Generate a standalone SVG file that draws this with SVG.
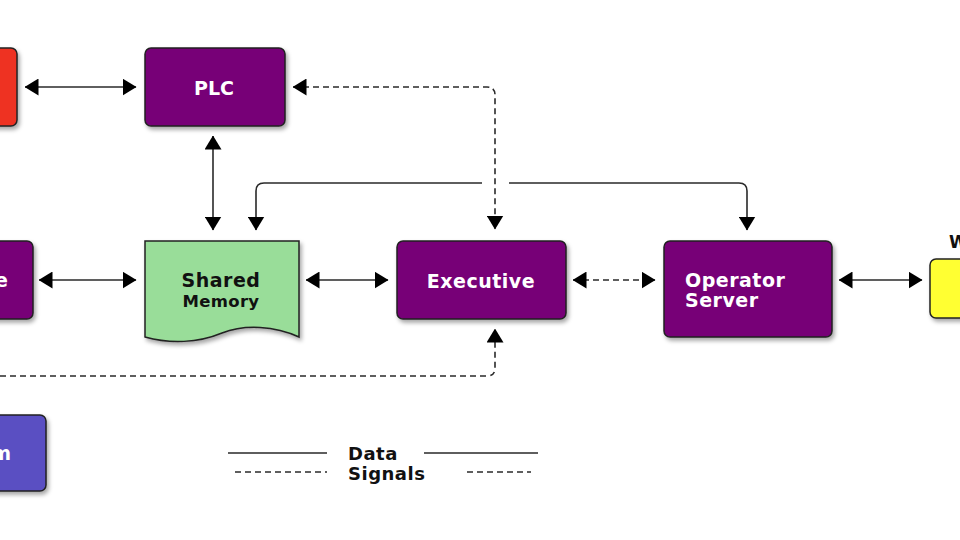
<svg xmlns="http://www.w3.org/2000/svg" width="960" height="540" viewBox="0 0 960 540">
<style>
.node{stroke:#222;stroke-width:1.5}
.purple{fill:#770077}
.lbl{font-family:"DejaVu Sans",sans-serif;font-weight:bold;font-size:19px;fill:#fff}
.dark{fill:#111}
.ln{fill:none;stroke:#2a2a2a;stroke-width:1.6}
.dash{stroke-dasharray:6 4}
</style>
<defs>
<filter id="sh" x="-20%" y="-20%" width="140%" height="140%">
<feDropShadow dx="2" dy="3" stdDeviation="2" flood-color="#000" flood-opacity="0.35"/>
</filter>
<marker id="ah" markerUnits="userSpaceOnUse" markerWidth="14" markerHeight="17" viewBox="0 0 14 17" refX="13.5" refY="8.5" orient="auto-start-reverse">
<path d="M0,0 L14,8.5 L0,17 Z" fill="#000"/>
</marker>
</defs>
<rect width="960" height="540" fill="#fff"/>

<g id="connectors">
<path class="ln" d="M25,87 H136" marker-start="url(#ah)" marker-end="url(#ah)"/>
<path class="ln dash" d="M293,87 H487 Q495,87 495,95 V229" marker-start="url(#ah)" marker-end="url(#ah)"/>
<path class="ln" d="M213,136 V230" marker-start="url(#ah)" marker-end="url(#ah)"/>
<path class="ln" d="M482,183 H264 Q256,183 256,191 V230" marker-end="url(#ah)"/>
<path class="ln" d="M509,183 H739 Q747,183 747,191 V230" marker-end="url(#ah)"/>
<path class="ln" d="M39,280 H136" marker-start="url(#ah)" marker-end="url(#ah)"/>
<path class="ln" d="M306,280 H388" marker-start="url(#ah)" marker-end="url(#ah)"/>
<path class="ln dash" d="M573,280 H655" marker-start="url(#ah)" marker-end="url(#ah)"/>
<path class="ln" d="M839,280 H922" marker-start="url(#ah)" marker-end="url(#ah)"/>
<path class="ln dash" d="M0,376 H487 Q495,376 495,368 V329" marker-end="url(#ah)"/>
</g>

<g id="red-node">
<rect class="node" x="-20" y="48" width="37" height="78" rx="6" fill="#ee3322" filter="url(#sh)"/>
</g>

<g id="plc">
<rect class="node purple" x="145" y="48" width="140" height="78" rx="6" filter="url(#sh)"/>
<text class="lbl" x="214" y="95" text-anchor="middle">PLC</text>
</g>

<g id="e-node">
<rect class="node purple" x="-20" y="241" width="53" height="78" rx="6" filter="url(#sh)"/>
<text class="lbl" x="8" y="287" text-anchor="end">e</text>
</g>

<g id="shared-memory">
<path class="node" fill="#99dd99" filter="url(#sh)" d="M145,241 H299 V337 C275,326 245,324 222,333 C198,343 170,344 145,337 Z"/>
<text class="lbl dark" x="221" y="287" text-anchor="middle" letter-spacing="0.5">Shared</text>
<text class="lbl dark" x="221" y="307" text-anchor="middle" style="font-size:16.5px" letter-spacing="0.3">Memory</text>
</g>

<g id="executive">
<rect class="node purple" x="397" y="241" width="169" height="78" rx="6" filter="url(#sh)"/>
<text class="lbl" x="481" y="288" text-anchor="middle" letter-spacing="0.5">Executive</text>
</g>

<g id="operator-server">
<rect class="node purple" x="664" y="241" width="168" height="96" rx="6" filter="url(#sh)"/>
<text class="lbl" x="685" y="287" letter-spacing="0.5">Operator</text>
<text class="lbl" x="685" y="307" letter-spacing="0.5">Server</text>
</g>

<g id="yellow-node">
<rect class="node" x="930" y="259" width="50" height="59" rx="6" fill="#ffff33" filter="url(#sh)"/>
<text class="lbl dark" x="949" y="248" style="font-size:17px">W</text>
</g>

<g id="blue-node">
<rect class="node" x="-20" y="415" width="66" height="76" rx="6" fill="#5a4fc2" filter="url(#sh)"/>
<text class="lbl" x="11" y="460" text-anchor="end">m</text>
</g>

<g id="legend">
<path class="ln" d="M228,453 H327 M424,453 H538"/>
<path class="ln dash" d="M235,472 H327 M467,472 H531"/>
<text class="lbl dark" x="348" y="460" style="font-size:18px" letter-spacing="0.5">Data</text>
<text class="lbl dark" x="348" y="480" style="font-size:18px" letter-spacing="0.5">Signals</text>
</g>
</svg>
